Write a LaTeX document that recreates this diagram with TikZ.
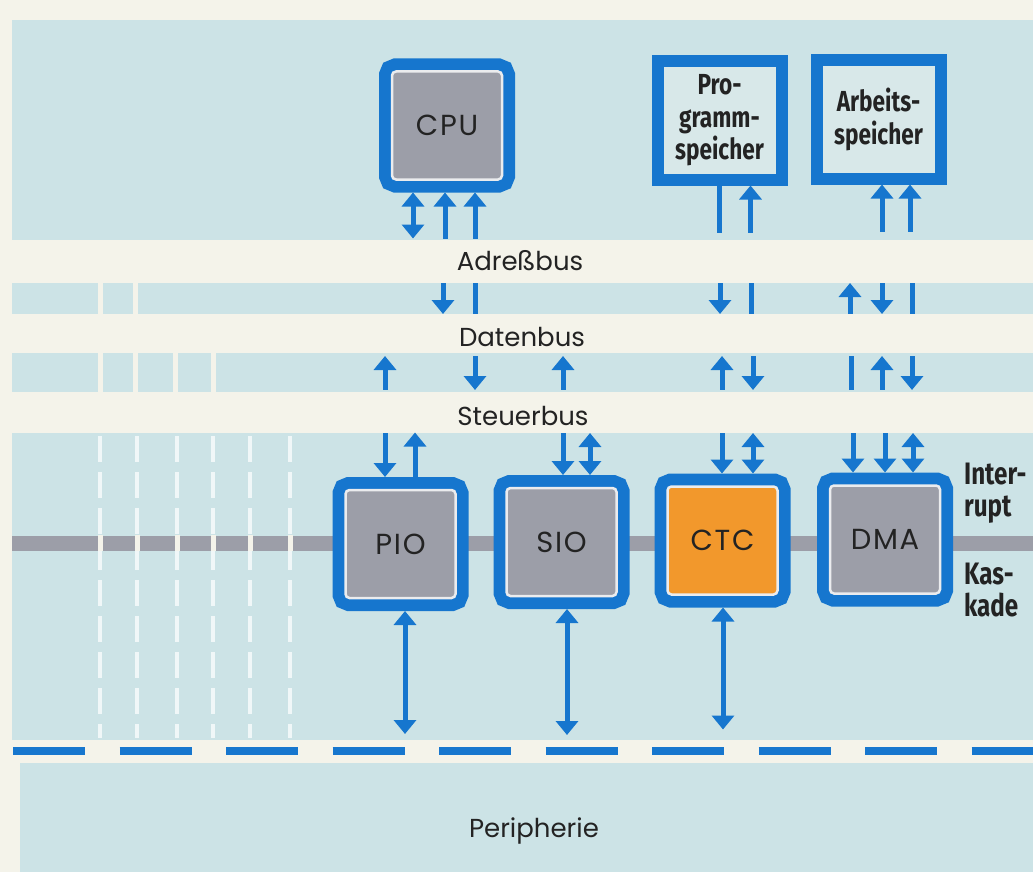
\documentclass[tikz,border=0pt]{standalone}
\usepackage{fontspec}
\setmainfont{Poppins}
\newfontfamily\chipfont[LetterSpace=6]{Poppins}
\newfontfamily\condfont[FakeStretch=0.78]{Fira Sans}
\usetikzlibrary{arrows.meta, calc}

\definecolor{paper}{HTML}{F4F3EA}
\definecolor{band}{HTML}{CCE3E6}
\definecolor{memfill}{HTML}{D8E8E9}
\definecolor{busblue}{HTML}{1676CE}
\definecolor{chipgray}{HTML}{9C9EA8}
\definecolor{chiporange}{HTML}{F2982C}
\definecolor{ink}{HTML}{232323}

\begin{document}
\begin{tikzpicture}[x=1pt, y=-1pt,
    chip/.style={fill=chipgray, draw=white!80!chipgray, line width=2.5pt,
      rounded corners=4pt, minimum width=110pt, minimum height=108pt,
      inner sep=0pt, outer sep=0pt,
      preaction={draw=busblue, line width=26pt},
      text=ink, font=\chipfont\fontsize{29}{29}\selectfont},
    memory/.style={fill=memfill, draw=busblue, line width=12pt,
      minimum width=124pt, minimum height=118pt, inner sep=0pt, outer sep=0pt,
      align=center, text=ink,
      font=\condfont\bfseries\fontsize{29}{32.5}\selectfont},
    buslabel/.style={text=ink, anchor=base, font=\fontsize{26}{26}\selectfont},
    sidelabel/.style={text=ink, align=left, anchor=west, inner sep=0pt,
      font=\condfont\bfseries\fontsize{31}{32}\selectfont},
    busline/.style={busblue, line width=5pt},
    headstart/.style={busline, {Triangle[width=22pt,length=14pt]}-},
    headend/.style={busline, -{Triangle[width=22pt,length=14pt]}},
    headboth/.style={busline, {Triangle[width=22pt,length=14pt]}-{Triangle[width=22pt,length=14pt]}},
    nohead/.style={busline}]

    % --- 1. Hintergrund und Baender ---
    \useasboundingbox (0,0) rectangle (1033,872);
    \fill[paper] (0,0) rectangle (1033,872);
    \fill[band] (12,20) rectangle (1033,240);
    \fill[band] (12,283) rectangle (1033,314);
    \fill[band] (12,353) rectangle (1033,392);
    \fill[band] (12,433) rectangle (1033,740);
    \fill[band] (20,763) rectangle (1033,872);

    % --- 2. weisse Trennlinien links ---
    \foreach \x in {100,135}
      \fill[paper] (\x-2.5,283) rectangle (\x+2.5,314);
    \foreach \x in {100,135,175,213}
      \fill[paper] (\x-2.5,353) rectangle (\x+2.5,392);
    \foreach \x in {100,137,177,213,250,290}
      \draw[white!70!band, line width=4pt, dash pattern=on 26pt off 10pt] (\x,436) -- (\x,738);

    % --- 3. Interrupt-Kaskade und Peripherie-Grenze ---
    \draw[chipgray, line width=15pt] (12,543) -- (1033,543);
    \foreach \x in {100,137,177,213,250,290}
      \fill[paper] (\x-2.5,535) rectangle (\x+2.5,551);
    \draw[busblue, line width=8pt, dash pattern=on 72pt off 34.5pt] (13,751) -- (1033,751);

    % --- 4. Bausteine ---
    \node[chip] (cpu) at (447,125.5) {CPU};
    \node[memory] (prog) at (719.5,120.5) {Pro-\\gramm-\\speicher};
    \node[memory] (arbeit) at (878.5,119.5) {Arbeits-\\speicher};
    \node[chip] (pio) at (400.5,544) {PIO};
    \node[chip] (sio) at (561.5,542) {SIO};
    \node[chip, fill=chiporange] (ctc) at (722.5,540.5) {CTC};
    \node[chip] (dma) at (885,539.5) {DMA};

    % --- 5. Anschluesse oben ---
    \draw[headboth] ($(cpu.south)+(-34,13)$) -- ++(0,46);
    \draw[headstart] ($(cpu.south)+(-2,13)$) -- ++(0,46);
    \draw[headstart] ($(cpu.south)+(28,13)$) -- ++(0,46);
    \draw[nohead] ($(prog.south)+(0,6)$) -- ++(0,47);
    \draw[headstart] ($(prog.south)+(31,6)$) -- ++(0,47);
    \draw[headstart] ($(arbeit.south)+(3.5,6)$) -- ++(0,47);
    \draw[headstart] ($(arbeit.south)+(31.5,6)$) -- ++(0,47);

    % --- 6. Busleitungen ---
    \foreach \x/\tip in {443/headend, 475/nohead, 720/headend, 751/nohead,
        850/headstart, 882/headend, 912/nohead}
      \draw[\tip] (\x,283) -- (\x,314);
    \foreach \x/\tip in {385/headstart, 475/headend, 563/headstart, 722/headstart,
        753/headend, 851/nohead, 882/headstart, 912/headend}
      \draw[\tip] (\x,356) -- (\x,390);

    % --- 7. Anschluesse unten ---
    \draw[headstart] ($(pio.north)+(-15.5,-13)$) -- ++(0,-44.5);
    \draw[headend] ($(pio.north)+(14.5,-13)$) -- ++(0,-44.5);
    \draw[headstart] ($(sio.north)+(1.5,-13)$) -- ++(0,-42);
    \draw[headboth] ($(sio.north)+(28.5,-13)$) -- ++(0,-42);
    \draw[headstart] ($(ctc.north)+(-0.5,-13)$) -- ++(0,-40.5);
    \draw[headboth] ($(ctc.north)+(30.5,-13)$) -- ++(0,-40.5);
    \draw[headstart] ($(dma.north)+(-32,-13)$) -- ++(0,-39.5);
    \draw[headstart] ($(dma.north)+(0,-13)$) -- ++(0,-39.5);
    \draw[headboth] ($(dma.north)+(28,-13)$) -- ++(0,-39.5);
    \draw[headboth] ($(pio.south)+(4.5,13)$) -- ++(0,123);
    \draw[headboth] ($(sio.south)+(5.5,13)$) -- ++(0,126);
    \draw[headboth] ($(ctc.south)+(0.5,13)$) -- ++(0,122);

    % --- 8. Beschriftung ---
    \node[buslabel] (adr) at (520,270) {Adreßbus};
    \node[buslabel] (dat) at (522,346) {Datenbus};
    \node[buslabel] (steuer) at (523,425) {Steuerbus};
    \node[buslabel] (peri) at (534,837) {Peripherie};
    \node[sidelabel] (irq) at (964,493) {Inter-\\rupt};
    \node[sidelabel] (kas) at (964,590) {Kas-\\kade};

\end{tikzpicture}
\end{document}
